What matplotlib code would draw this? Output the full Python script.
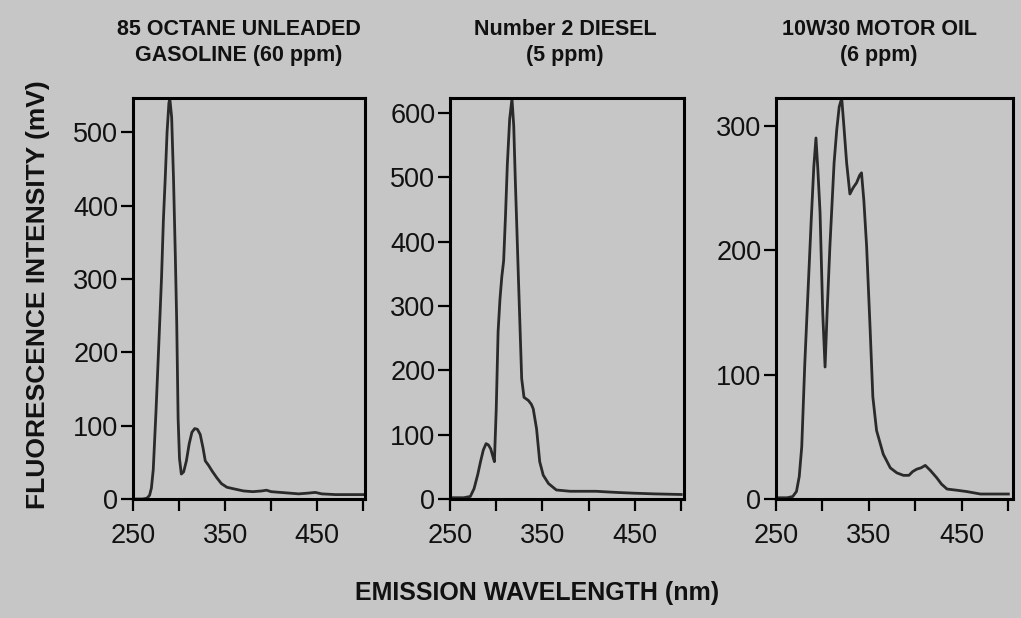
import matplotlib
matplotlib.use("Agg")
import matplotlib.pyplot as plt

plt.rcParams['font.family'] = ['Liberation Sans', 'DejaVu Sans']

# ---- data ----
titles = ["85 OCTANE UNLEADED\nGASOLINE (60 ppm)", "Number 2 DIESEL\n(5 ppm)", "10W30 MOTOR OIL\n(6 ppm)"]
x_ticks = [250, 300, 350, 400, 450, 500]
x_tick_labels = ["250", "", "350", "", "450", ""]

gas_nm = [250, 260, 265, 268, 270, 272, 275, 278, 281, 283, 285, 287, 289, 290, 292, 294, 296, 297.5, 299, 300.5,
          302.5, 305, 308, 311, 314, 317, 320, 323, 326, 328.5, 332, 336, 341, 346, 352, 359, 370, 380, 390, 395,
          400, 410, 420, 430, 440, 448, 455, 470, 485, 500]
gas_mv = [0, 0, 1, 5, 15, 40, 120, 210, 302, 380, 437, 500, 540, 546, 520, 437, 330, 240, 110, 55,
          34, 37, 52, 75, 91, 96, 95, 88, 70, 52, 46, 38, 29, 21, 16, 14, 11, 10, 11, 12,
          10, 9, 8, 7, 8, 9, 7, 6, 6, 6]
gas_yticks = [0, 100, 200, 300, 400, 500]

diesel_nm = [250, 265, 272, 276, 280, 283, 286, 289, 291.5, 294, 296, 298, 300, 302, 304, 306, 308, 310, 312, 314.5,
             317, 318.9, 320.6, 322.3, 324, 327.5, 330, 334.8, 338, 340, 343.6, 347, 350.8, 356.5, 365, 380, 395,
             408, 420, 433, 450, 470, 500]
diesel_mv = [2, 2, 4, 16, 38, 58, 76, 86, 84, 78, 68, 58, 140, 260, 310, 345, 370, 440, 520, 590,
             622, 580, 496, 420, 342, 187, 158, 153, 147, 140, 109, 58, 37, 24, 14, 12, 12,
             12, 11, 10, 9, 8, 7]
diesel_yticks = [0, 100, 200, 300, 400, 500, 600]

oil_nm = [250, 262, 268, 272, 275, 277.7, 281, 285, 287.9, 290.7, 293, 295, 297.4, 300.3, 302.8, 305, 308, 312.5,
          315.4, 318, 320.7, 323, 326, 329.5, 333, 336.7, 340, 342, 344.5, 347.5, 351.3, 354.2, 358.2, 365.4, 373,
          380, 387, 393, 397, 401.5, 406, 410.6, 416, 423, 428, 434, 445, 455, 470, 485, 500]
oil_mv = [1, 1, 2, 6, 18, 42, 109, 176, 224, 267, 290, 265, 230, 149, 106, 150, 203, 270,
          297, 315, 322, 300, 270, 245, 250, 254, 260, 262, 240, 203, 136, 82, 55, 36, 25,
          21, 19, 19, 22, 24, 25, 27, 23, 17, 12, 8, 7, 6, 4, 4, 4]
oil_yticks = [0, 100, 200, 300]

series = [(gas_nm, gas_mv, gas_yticks, 547.4, 502),
          (diesel_nm, diesel_mv, diesel_yticks, 623.8, 503),
          (oil_nm, oil_mv, oil_yticks, 322.5, 505)]

# ---- layout ----
W, H = 1021, 618
BG = '#c6c6c6'
fig = plt.figure(figsize=(W / 100, H / 100), dpi=100, facecolor=BG)

boxes = [(133, 365), (450, 684), (776, 1013)]
top_px, bot_px = 97.5, 499
title_cx = [239, 565, 879]

for i, ((nm, mv, yt, ytop, xr), (l, r)) in enumerate(zip(series, boxes)):
    ax = fig.add_axes([l / W, 1 - bot_px / H, (r - l) / W, (bot_px - top_px) / H])
    ax.set_facecolor(BG)
    ax.plot(nm, mv, color='#2a2a2a', lw=2.0, solid_joinstyle='round')
    ax.set_xlim(250, xr)
    ax.set_ylim(0, ytop)
    ax.set_xticks(x_ticks)
    ax.set_xticklabels(x_tick_labels)
    ax.set_yticks(yt)
    ax.set_yticklabels([str(v) for v in yt])
    for s in ax.spines.values():
        s.set_linewidth(2.2)
        s.set_color('black')
    ax.tick_params(axis='both', direction='out', length=8.5, width=1.6, color='black',
                   labelsize=19.5, labelcolor='#111111')
    ax.tick_params(axis='x', pad=9)
    ax.tick_params(axis='y', pad=2)
    fig.text(title_cx[i] / W, 1 - 42.5 / H, titles[i], ha='center', va='center',
             fontsize=15.5, fontweight='bold', color='#111111', linespacing=1.3)

fig.text(38 / W, 1 - 295 / H, "FLUORESCENCE INTENSITY (mV)", rotation=90,
         ha='center', va='center', fontsize=19, fontweight='bold', color='#111111')
fig.text(537 / W, 1 - 593 / H, "EMISSION WAVELENGTH (nm)", ha='center', va='center',
         fontsize=18, fontweight='bold', color='#111111')

fig.savefig('out.png', dpi=100, facecolor=BG)
